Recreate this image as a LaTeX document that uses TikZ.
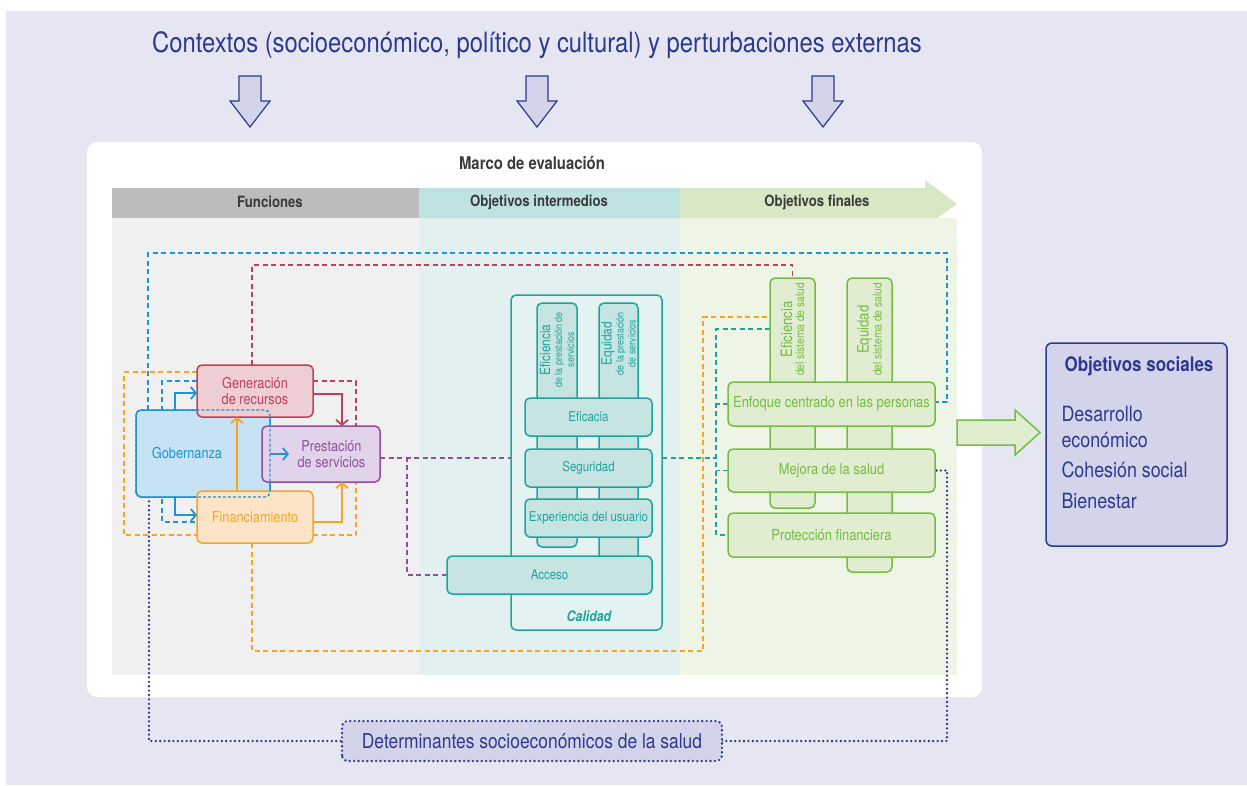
\documentclass[tikz,border=0pt]{standalone}
\usepackage{fontspec}
\setmainfont{TeX Gyre Heros}[FakeStretch=0.85]
\usetikzlibrary{arrows.meta}
\usepackage{xcolor}
\definecolor{lavbg}{HTML}{E6E6F2}
\definecolor{navy}{HTML}{2B3A8E}
\definecolor{navyfill}{HTML}{D3D3EA}
\definecolor{darktx}{HTML}{3A3A3A}
\definecolor{funchead}{HTML}{BDBBBC}
\definecolor{funcbg}{HTML}{F0F0F0}
\definecolor{inthead}{HTML}{BEE2E1}
\definecolor{intbg}{HTML}{E2F0F0}
\definecolor{finhead}{HTML}{D8E8C4}
\definecolor{finbg}{HTML}{EEF5E6}
\definecolor{genred}{HTML}{C0405A}
\definecolor{genfill}{HTML}{EECDD3}
\definecolor{gobblue}{HTML}{1B95D3}
\definecolor{gobfill}{HTML}{C7E2F5}
\definecolor{prespurple}{HTML}{8F4F9C}
\definecolor{presfill}{HTML}{E1D3E9}
\definecolor{finorange}{HTML}{F5A623}
\definecolor{finfill}{HTML}{FDE4C6}
\definecolor{calteal}{HTML}{1FA49B}
\definecolor{calfill}{HTML}{C5E4E2}
\definecolor{calbg}{HTML}{E4F2F1}
\definecolor{objgreen}{HTML}{76BC43}
\definecolor{objfill}{HTML}{E0EDD0}

\pgfdeclarelayer{back}
\pgfdeclarelayer{lines}
\pgfsetlayers{back,lines,main}

\tikzset{
  funcbox/.style={rounded corners=5pt, line width=1.5pt, inner sep=0pt, outer sep=0pt,
    align=center, font=\fontsize{15}{16.5}\selectfont},
  calbox/.style={draw=calteal, fill=calfill, text=calteal, rounded corners=5pt,
    line width=1.5pt, inner sep=0pt, outer sep=0pt, align=center,
    font=\fontsize{13.5}{15}\selectfont},
  objbox/.style={draw=objgreen, fill=objfill, text=objgreen, rounded corners=5pt,
    line width=1.5pt, inner sep=0pt, outer sep=0pt, align=center,
    font=\fontsize{15.2}{17}\selectfont},
  headlbl/.style={text=darktx, font=\bfseries\fontsize{15.5}{17}\selectfont},
  dashline/.style={line width=1.5pt, dash pattern=on 5pt off 3.5pt},
  dotline/.style={navy, line width=2.6pt, line cap=round, dash pattern=on 0pt off 4.4pt},
  sarrow/.style={line width=1.8pt, -{Straight Barb[length=5pt,width=12pt]}},
  soctext/.style={text=navy, anchor=west, font=\fontsize{21}{24}\selectfont}
}

\begin{document}
\begin{tikzpicture}[x=1pt, y=-1pt]
\useasboundingbox (0,0) rectangle (1247,785);

\begin{pgfonlayer}{back}
\fill[white] (0,0) rectangle (1247,785);
\fill[lavbg] (6,11) rectangle (1247,785);
\foreach \cx in {250,537,823}
  \filldraw[navy, fill=navyfill, line width=1.2pt, line join=miter]
    (\cx-11,76) -- (\cx+11,76) -- (\cx+11,101) -- (\cx+20,101) -- (\cx,127)
    -- (\cx-20,101) -- (\cx-11,101) -- cycle;
% evaluation panel
\fill[white, rounded corners=10pt] (87,142) rectangle (982,697);
\fill[funchead] (112,188) rectangle (419,218);
\fill[inthead] (419,188) rectangle (680,218);
\fill[finhead] (680,188) -- (925,188) -- (925,180) -- (957,204) -- (925,227)
  -- (925,218) -- (680,218) -- cycle;
\fill[funcbg] (112,218) rectangle (419,675);
\fill[intbg] (419,218) rectangle (680,675);
\fill[finbg] (680,218) rectangle (957,675);
\end{pgfonlayer}

% contexts
\node[text=navy, font=\fontsize{28}{32}\selectfont] (ctx) at (537,45)
  {Contextos (socioeconómico, político y cultural) y perturbaciones externas};
\node[text=darktx, font=\bfseries\fontsize{17.5}{20}\selectfont] (marco) at (532,163) {Marco de evaluación};
\node[headlbl] (hfunc) at (270,202) {Funciones};
\node[headlbl] (hint) at (539,202) {Objetivos intermedios};
\node[headlbl] (hfin) at (817,202) {Objetivos finales};

% functions
\node[funcbox, draw=gobblue, fill=gobfill, text=gobblue, minimum width=134pt,
  minimum height=87pt] (gob) at (203,453.5) {Gobernanza\hspace*{32pt}};
\node[funcbox, draw=genred, fill=genfill, text=genred, minimum width=116pt,
  minimum height=52pt] (gen) at (255,391) {Generación\\de recursos};
\node[funcbox, draw=prespurple, fill=presfill, text=prespurple, minimum width=118pt,
  minimum height=56pt] (pres) at (321,454) {\hspace*{21pt}Prestación\\\hspace*{21pt}de servicios};
\node[funcbox, draw=finorange, fill=finfill, text=finorange, minimum width=116pt,
  minimum height=52pt] (fin) at (255,517) {Financiamiento};

% intermediate objectives
\node[draw=calteal, fill=calbg, rounded corners=5pt, line width=1.5pt, outer sep=0pt,
  minimum width=151pt, minimum height=335pt] (cal) at (586.5,462.5) {};
\node[calbox, minimum width=40pt, minimum height=244pt] (efp) at (557,425) {};
\node[calbox, minimum width=39pt, minimum height=269pt] (eqp) at (618.5,437.5) {};
\node[rotate=90, anchor=east, align=center, text=calteal, inner sep=0pt] (efplbl)
  at ([yshift=-9pt]efp.north) {{\fontsize{14}{13}\selectfont Eficiencia}\\
  {\fontsize{10.5}{10.5}\selectfont de la prestación de}\\{\fontsize{10.5}{10.5}\selectfont servicios}};
\node[rotate=90, anchor=east, align=center, text=calteal, inner sep=0pt] (eqplbl)
  at ([yshift=-9pt]eqp.north) {{\fontsize{14}{13}\selectfont Equidad}\\
  {\fontsize{10.5}{10.5}\selectfont de la prestación}\\{\fontsize{10.5}{10.5}\selectfont de servicios}};
\node[calbox, minimum width=127pt, minimum height=38pt] (efic) at (588.5,417) {Eficacia};
\node[calbox, minimum width=127pt, minimum height=38pt] (seg) at (588.5,468) {Seguridad};
\node[calbox, minimum width=127pt, minimum height=38pt] (exp) at (588.5,518) {Experiencia del usuario};
\node[calbox, minimum width=205pt, minimum height=38pt] (acc) at (549.5,575) {Acceso};
\node[text=calteal, font=\bfseries\itshape\fontsize{14.5}{16}\selectfont] (calidad) at (589,616) {Calidad};

% final objectives
\node[objbox, minimum width=45pt, minimum height=230pt] (efs) at (792.5,393) {};
\node[objbox, minimum width=45pt, minimum height=294pt] (eqs) at (869.5,425) {};
\node[rotate=90, anchor=east, align=center, text=objgreen, inner sep=0pt] (efslbl)
  at ([yshift=-5pt]efs.north) {{\fontsize{15.5}{15}\selectfont Eficiencia}\\
  {\fontsize{12}{13}\selectfont del sistema de salud}};
\node[rotate=90, anchor=east, align=center, text=objgreen, inner sep=0pt] (eqslbl)
  at ([yshift=-5pt]eqs.north) {{\fontsize{15.5}{15}\selectfont Equidad}\\
  {\fontsize{12}{13}\selectfont del sistema de salud}};
\node[objbox, minimum width=207pt, minimum height=44pt] (enf) at (831.5,404) {Enfoque centrado en las personas};
\node[objbox, minimum width=207pt, minimum height=43pt] (mej) at (831.5,470.5) {Mejora de la salud};
\node[objbox, minimum width=207pt, minimum height=44pt] (pro) at (831.5,535) {Protección financiera};

% social objectives
\node[draw=navy, fill=navyfill, rounded corners=6pt, line width=1.5pt, outer sep=0pt,
  minimum width=181pt, minimum height=203pt] (soc) at (1136.5,444.5) {};
\node[text=navy, font=\bfseries\fontsize{20}{23}\selectfont] (soctitle) at (1139,366) {Objetivos sociales};
\foreach \t/\yy [count=\i] in {Desarrollo/414, económico/440, Cohesión social/470, Bienestar/501}
  \node[soctext] (soc\i) at (1058,\yy) {\t};
\filldraw[objgreen, fill=objfill, line width=1.5pt, line join=miter]
  (957,420) -- (1015,420) -- (1015,410) -- (1040,432.5) -- (1015,455) -- (1015,445)
  -- (957,445) -- cycle;

% determinants
\node[fill=navyfill, rounded corners=6pt, outer sep=0pt, minimum width=380pt,
  minimum height=40pt, text=navy, font=\fontsize{20.5}{23}\selectfont] (det) at (532,741)
  {Determinantes socioeconómicos de la salud};
\draw[dotline, rounded corners=6pt] (det.south west) rectangle (det.north east);

% feedback lines
\begin{pgfonlayer}{lines}
\draw[genred, dashline] ([xshift=-3pt]gen.north) -- ++(0,-100) -| (efs.north);
\draw[genred, dashline] ([yshift=10pt]gen.east) -| ([xshift=35pt]pres.north);
\draw[finorange, dashline] ([yshift=19pt]gen.west) -- ++(-73,0) |- ([yshift=-18pt]fin.west);
\draw[finorange, dashline] ([yshift=-18pt]fin.east) -| ([xshift=35pt]pres.south);
\draw[finorange, dashline] ([xshift=-3pt]fin.south) -- ++(0,108) -- ++(451,0) |- ([yshift=76pt]efs.west);
\draw[gobblue, dashline] ([xshift=-55pt]gob.north) -- ++(0,-157) -- ++(799,0) |- ([yshift=2pt]enf.east);
\draw[gobblue, dashline] ([yshift=10pt]gen.west) -- ++(-35,0) |- ([yshift=-5pt]fin.west);
\draw[prespurple, dashline] ([yshift=-4pt]pres.east) -- ([yshift=4.5pt]cal.west);
\draw[prespurple, dashline] ([yshift=-4pt]pres.east) -- ++(27,0) |- (acc.west);
\draw[calteal, dashline] ([yshift=4.5pt]cal.east) -- ++(54,0);
\draw[calteal, dashline] ([yshift=64pt]efs.west) -- ++(-54,0) |- (pro.west);
\foreach \b in {enf,mej}
  \draw[calteal, dashline] (\b.west) -- ++(-12,0);
\draw[dotline] ([xshift=-54pt]gob.south) |- (det.west);
\draw[dotline] (det.east) -- ++(225,0) |- (mej.east);
\end{pgfonlayer}

% arrows between functions
\draw[genred, sarrow] ([yshift=-3pt]gen.east) -| ([xshift=21pt]pres.north);
\draw[finorange, sarrow] ([yshift=-5pt]fin.east) -| ([xshift=21pt]pres.south);
\draw[finorange, sarrow] ([xshift=-18pt]fin.north) -- ([xshift=-18pt]gen.south);
\draw[gobblue, sarrow] ([xshift=-28pt]gob.north) |- ([yshift=-2pt]gen.west);
\draw[gobblue, sarrow] ([xshift=-28pt]gob.south) |- ([yshift=2pt]fin.west);
\draw[gobblue, sarrow] (gob.east |- pres.west) -- ([xshift=27pt]pres.west);
\draw[gobblue, line width=1.4pt, dash pattern=on 3pt off 2pt, rounded corners=5pt]
  (gob.south west) rectangle (gob.north east);
\end{tikzpicture}
\end{document}
